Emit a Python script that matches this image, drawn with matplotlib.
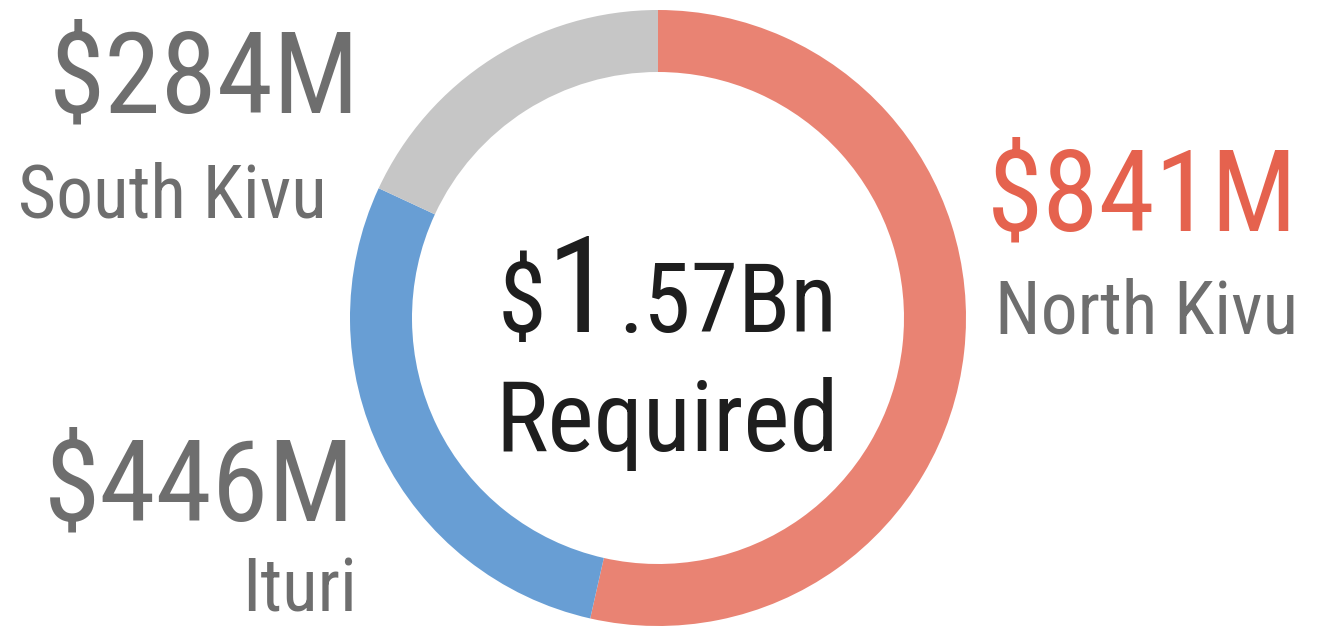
import matplotlib
matplotlib.use("Agg")
import matplotlib.pyplot as plt
from matplotlib import font_manager

# data
regions = ["North Kivu", "Ituri", "South Kivu"]
amounts = [841, 446, 284]  # US$ millions
amount_labels = ["$841M", "$446M", "$284M"]
total_parts = ["$", "1", ".57Bn"]
total_caption = "Required"

wedge_colors = ["#E98373", "#689ED4", "#C6C6C6"]
value_colors = ["#E5624E", "#6E6E6E", "#6E6E6E"]
name_color = "#6E6E6E"
center_color = "#1E1E1E"

# font: condensed if we have it
names = {f.name for f in font_manager.fontManager.ttflist}
if "Roboto Condensed" in names:
    fam = "Roboto Condensed"
    k = 1.0
else:
    fam = "Roboto"
    k = 0.85
plt.rcParams["font.family"] = [fam, "DejaVu Sans"]

W, H = 1318, 627
fig = plt.figure(figsize=(W / 100, H / 100), dpi=100)
ax = fig.add_axes([0, 0, 1, 1])

cx, cy, R = 658, H - 318, 308
ax.pie(amounts, colors=wedge_colors, startangle=90, counterclock=False,
       center=(cx, cy), radius=R,
       wedgeprops=dict(width=62, edgecolor="none", linewidth=0))
ax.set_xlim(0, W)
ax.set_ylim(0, H)
ax.set_aspect("equal")
ax.axis("off")

# labels around the ring (x, baseline in image pixels, alignment)
val_pos = [(987, 230, "left"), (355, 520, "right"), (360, 112, "right")]
name_pos = [(995, 333, "left"), (357, 611, "right"), (327, 217, "right")]
for i in range(len(regions)):
    x, y, ha = val_pos[i]
    ax.text(x, H - y, amount_labels[i], fontsize=82 * k, color=value_colors[i],
            ha=ha, va="baseline")
    x, y, ha = name_pos[i]
    ax.text(x, H - y, regions[i], fontsize=53 * k, color=name_color,
            ha=ha, va="baseline")

# centre total, "1" drawn bigger
sizes = [71, 96, 69]
t = ax.text(498, H - 332, total_parts[0], fontsize=sizes[0] * k,
            color=center_color, ha="left", va="baseline")
t = ax.annotate(total_parts[1], xy=(1, H - 332), xycoords=(t, ax.transData),
                fontsize=sizes[1] * k, color=center_color, ha="left", va="baseline")
t = ax.annotate(total_parts[2], xy=(1, H - 332), xycoords=(t, ax.transData),
                xytext=(4, 0), textcoords="offset points",
                fontsize=sizes[2] * k, color=center_color, ha="left", va="baseline")
ax.text(667, H - 451, total_caption, fontsize=71 * k, color=center_color,
        ha="center", va="baseline")

fig.savefig("out.png", dpi=100, facecolor="white")
